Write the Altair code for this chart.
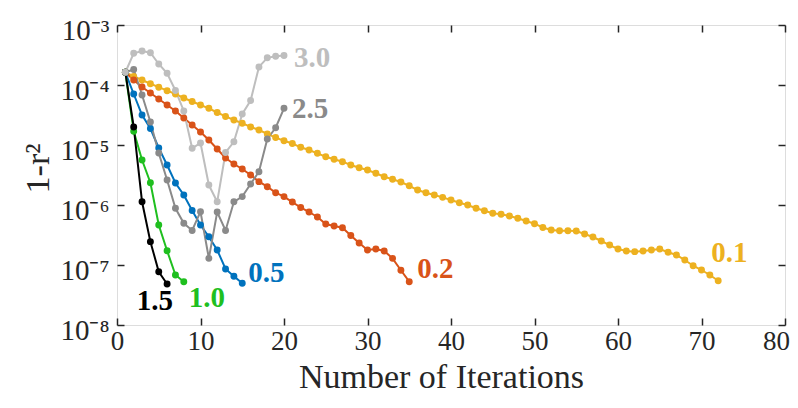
import altair as alt
import pandas as pd

# ---------------- data ----------------
series_names = ["0.1", "0.2", "0.5", "1.0", "1.5", "2.5", "3.0"]
series_colors = ["#EDB120", "#D95319", "#0072BD", "#1FBF1F", "#000000", "#8A8A8A", "#BEBEBE"]

vals_01 = [1.63e-4, 1.39e-4, 1.21e-4, 1.05e-4, 9.19e-5, 8.04e-5, 7.08e-5, 6.07e-5, 5.31e-5, 4.64e-5,
           4.09e-5, 3.48e-5, 2.99e-5, 2.61e-5, 2.30e-5, 2.00e-5, 1.78e-5, 1.53e-5, 1.33e-5, 1.18e-5,
           1.06e-5, 9.16e-6, 8.25e-6, 7.27e-6, 6.38e-6, 5.78e-6, 5.27e-6, 4.64e-6, 4.19e-6, 3.83e-6,
           3.38e-6, 2.96e-6, 2.68e-6, 2.42e-6, 2.09e-6, 1.78e-6, 1.60e-6, 1.47e-6, 1.34e-6, 1.21e-6,
           1.09e-6, 1.00e-6, 8.81e-7, 8.04e-7, 7.27e-7, 7.00e-7, 6.56e-7, 6.00e-7, 5.41e-7, 4.88e-7,
           4.22e-7, 3.83e-7, 3.73e-7, 3.73e-7, 3.69e-7, 3.29e-7, 2.93e-7, 2.51e-7, 2.15e-7, 1.85e-7,
           1.71e-7, 1.67e-7, 1.71e-7, 1.78e-7, 1.85e-7, 1.63e-7, 1.47e-7, 1.21e-7, 9.73e-8, 8.25e-8,
           6.81e-8, 5.47e-8]
vals_02 = [1.63e-4, 1.21e-4, 9.26e-5, 7.36e-5, 5.84e-5, 4.64e-5, 3.69e-5, 2.82e-5, 2.15e-5, 1.65e-5,
           1.21e-5, 8.58e-6, 6.07e-6, 4.82e-6, 3.98e-6, 3.16e-6, 2.45e-6, 2.02e-6, 1.60e-6, 1.38e-6,
           1.12e-6, 9.09e-7, 7.64e-7, 6.31e-7, 4.82e-7, 4.47e-7, 4.19e-7, 3.10e-7, 2.33e-7, 1.78e-7,
           1.85e-7, 1.71e-7, 1.29e-7, 8.16e-8, 5.27e-8]
vals_05 = [1.63e-4, 7.08e-5, 3.16e-5, 1.88e-5, 8.91e-6, 4.64e-6, 2.33e-6, 1.47e-6, 8.10e-7, 4.64e-7,
           2.96e-7, 1.78e-7, 8.58e-8, 6.48e-8, 4.95e-8]
vals_10 = [1.63e-4, 1.70e-5, 5.62e-6, 2.35e-6, 4.64e-7, 1.73e-7, 6.81e-8, 5.27e-8]
vals_15 = [1.63e-4, 2.00e-5, 1.13e-6, 2.45e-7, 7.73e-8, 4.82e-8]
vals_25 = [1.63e-4, 1.81e-4, 6.81e-5, 2.42e-5, 7.36e-6, 2.61e-6, 8.81e-7, 4.95e-7, 3.76e-7, 7.73e-7,
           1.29e-7, 7.64e-7, 3.76e-7, 1.13e-6, 1.38e-6, 2.24e-6, 3.59e-6, 1.26e-5, 1.94e-5, 4.09e-5]
vals_30 = [1.63e-4, 3.38e-4, 3.69e-4, 3.45e-4, 2.24e-4, 1.57e-4, 8.10e-5, 3.69e-5, 8.81e-6, 1.08e-5,
           2.15e-6, 1.13e-6, 7.50e-6, 1.13e-5, 3.29e-5, 5.52e-5, 2.00e-4, 2.84e-4, 3.01e-4, 3.10e-4]

all_vals = [vals_01, vals_02, vals_05, vals_10, vals_15, vals_25, vals_30]

x_ticks = [0, 10, 20, 30, 40, 50, 60, 70, 80]
y_ticks = [1e-8, 1e-7, 1e-6, 1e-5, 1e-4, 1e-3]

x_title = "Number of Iterations"
y_title = "1-r\u00b2"

# ---------------- tables ----------------
rows = []
for order, (name, vals) in enumerate(zip(series_names, all_vals)):
    for i, v in enumerate(vals):
        rows.append({"series": name, "order": order, "iter": i + 1, "value": v})
df = pd.DataFrame(rows)

last = df.groupby("series", sort=False).tail(1).reset_index(drop=True)

FONT = "Liberation Serif"
TXT = "#262626"

color_scale = alt.Scale(domain=series_names, range=series_colors)
xs = alt.Scale(domain=[0, 80], nice=False, zero=False)
ys = alt.Scale(type="log", domain=[1e-8, 1e-3], nice=False)

sup_expr = ("'10\u207b' + ['\u2070','\u00b9','\u00b2','\u00b3','\u2074','\u2075','\u2076','\u2077','\u2078','\u2079']"
            "[round(-log(datum.value)/LN10)]")

x_main = alt.Axis(values=x_ticks, orient="bottom", ticks=False, domain=False, grid=False,
                  labelFont=FONT, labelFontSize=27, labelColor=TXT, labelPadding=3, labelFlush=False,
                  labelOffset={"condition": {"test": "datum.value == 80", "value": -9}, "value": 0},
                  title=x_title, titleFont=FONT, titleFontSize=34, titleFontWeight="normal",
                  titleColor=TXT, titleX=324, titleY=62, titleBaseline="alphabetic", titleAlign="center")
y_main = alt.Axis(values=y_ticks, orient="left", ticks=False, domain=False, grid=False,
                  labelExpr=sup_expr, labelFont=FONT, labelFontSize=29, labelColor=TXT,
                  labelPadding=8, labelOffset=5, labelFlush=False,
                  title=y_title, titleFont=FONT, titleFontSize=34, titleFontWeight="normal",
                  titleColor=TXT, titleX=-69, titleY=143, titleBaseline="alphabetic",
                  titleAlign="center", titleAngle=270)

def tick_axis(vals, orient):
    return alt.Axis(values=vals, orient=orient, offset=-7, domain=False, labels=False,
                    ticks=True, tickSize=7, tickWidth=1.5, tickColor=TXT, grid=False, title=None)

lines = alt.Chart(df).mark_line(strokeWidth=2).encode(
    x=alt.X("iter:Q", scale=xs, axis=x_main),
    y=alt.Y("value:Q", scale=ys, axis=y_main),
    color=alt.Color("series:N", scale=color_scale, legend=None),
    detail="series:N",
)

points = alt.Chart(df).mark_circle(size=48, opacity=1).encode(
    x=alt.X("iter:Q", scale=xs, axis=tick_axis(x_ticks, "bottom")),
    y=alt.Y("value:Q", scale=ys, axis=tick_axis(y_ticks, "left")),
    color=alt.Color("series:N", scale=color_scale, legend=None),
    order="order:Q",
)

mirror = alt.Chart(df).mark_point(opacity=0).encode(
    x=alt.X("iter:Q", scale=xs, axis=tick_axis(x_ticks, "top")),
    y=alt.Y("value:Q", scale=ys, axis=tick_axis(y_ticks, "right")),
)

# label styling: (align, dx, dy) per series
label_style = {
    "0.1": ("left", -7, -19),
    "0.2": ("left", 8, -4),
    "0.5": ("left", 6, -1),
    "1.0": ("left", 5, 25),
    "1.5": ("right", 6, 26),
    "2.5": ("left", 8, 10),
    "3.0": ("left", 10, 11),
}

label_layers = []
for name, col in zip(series_names, series_colors):
    al, dx, dy = label_style[name]
    label_layers.append(
        alt.Chart(last[last["series"] == name]).mark_text(
            font=FONT, fontWeight="bold", fontSize=29, color=col,
            align=al, baseline="alphabetic", dx=dx, dy=dy,
        ).encode(
            x=alt.X("iter:Q", scale=xs, axis=None),
            y=alt.Y("value:Q", scale=ys, axis=None),
            text="series:N",
        )
    )

chart = alt.layer(lines, points, mirror, *label_layers).resolve_axis(
    x="independent", y="independent"
).properties(
    width=668, height=300,
    autosize=alt.AutoSizeParams(type="none"),
    padding={"left": 109, "top": 17, "right": 5, "bottom": 71},
).configure_view(
    stroke=TXT, strokeWidth=1.5
).configure(background="white")

chart.save("out.html", embed_options={"renderer": "svg", "actions": False})
